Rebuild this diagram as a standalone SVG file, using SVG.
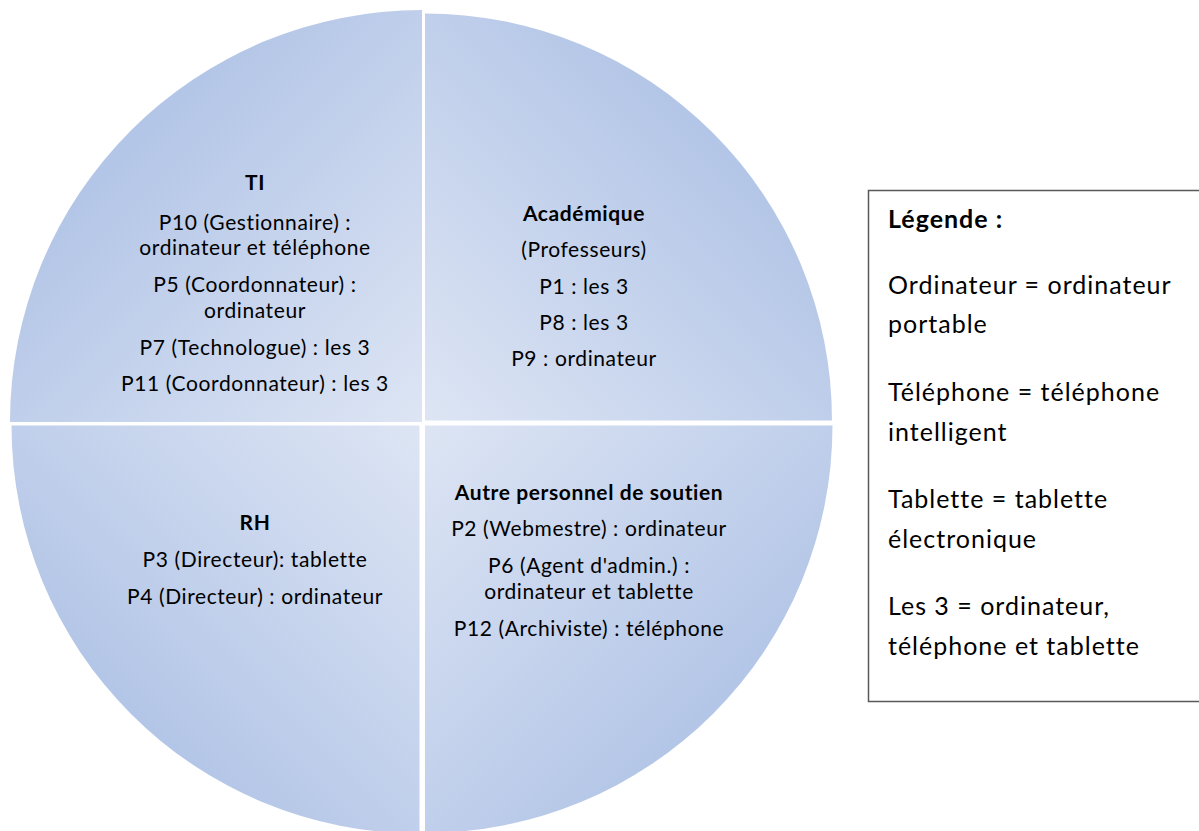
<svg xmlns="http://www.w3.org/2000/svg" width="1199" height="831" viewBox="0 0 1199 831">
  <style>
    .t { font-family: Lato, "Liberation Sans", sans-serif; font-size: 21px; letter-spacing: 0.6px; fill: #000; text-anchor: middle; }
    .b { font-weight: bold; }
    .lg { font-family: Lato, "Liberation Sans", sans-serif; font-size: 25px; letter-spacing: 1px; fill: #000; }
    .quad { stroke: none; }
  </style>
  <defs>
    <linearGradient id="gTL" gradientUnits="userSpaceOnUse" x1="422" y1="422" x2="140" y2="140">
      <stop offset="0" stop-color="#dde5f4"/>
      <stop offset="1" stop-color="#b4c6e7"/>
    </linearGradient>
    <linearGradient id="gTR" gradientUnits="userSpaceOnUse" x1="425" y1="420" x2="710" y2="140">
      <stop offset="0" stop-color="#dde5f4"/>
      <stop offset="1" stop-color="#b4c6e7"/>
    </linearGradient>
    <linearGradient id="gBL" gradientUnits="userSpaceOnUse" x1="420" y1="425" x2="135" y2="710">
      <stop offset="0" stop-color="#dde5f4"/>
      <stop offset="1" stop-color="#b4c6e7"/>
    </linearGradient>
    <linearGradient id="gBR" gradientUnits="userSpaceOnUse" x1="425" y1="425" x2="710" y2="710">
      <stop offset="0" stop-color="#dde5f4"/>
      <stop offset="1" stop-color="#b4c6e7"/>
    </linearGradient>
  </defs>
  <rect x="0" y="0" width="1199" height="831" fill="#ffffff"/>

  <g id="ti">
    <path class="quad" fill="url(#gTL)" d="M422,422 L10,422 A412,412 0 0 1 422,10 Z"/>
    <text class="t b" x="255" y="190">TI</text>
    <text class="t" x="255" y="230">P10 (Gestionnaire) :</text>
    <text class="t" x="255" y="255">ordinateur et téléphone</text>
    <text class="t" x="255" y="292">P5 (Coordonnateur) :</text>
    <text class="t" x="255" y="318">ordinateur</text>
    <text class="t" x="255" y="355">P7 (Technologue) : les 3</text>
    <text class="t" x="255" y="391">P11 (Coordonnateur) : les 3</text>
  </g>

  <g id="academique">
    <path class="quad" fill="url(#gTR)" d="M425,420.5 L425,13.5 A407,407 0 0 1 832,420.5 Z"/>
    <text class="t b" x="584" y="221">Académique</text>
    <text class="t" x="584" y="257">(Professeurs)</text>
    <text class="t" x="584" y="294">P1 : les 3</text>
    <text class="t" x="584" y="330">P8 : les 3</text>
    <text class="t" x="584" y="366">P9 : ordinateur</text>
  </g>

  <g id="rh">
    <path class="quad" fill="url(#gBL)" d="M419.5,425.5 L419.5,833.5 A408,408 0 0 1 11.5,425.5 Z"/>
    <text class="t b" x="255" y="530">RH</text>
    <text class="t" x="255" y="567">P3 (Directeur): tablette</text>
    <text class="t" x="255" y="604">P4 (Directeur) : ordinateur</text>
  </g>

  <g id="autre">
    <path class="quad" fill="url(#gBR)" d="M425,425.5 L832.5,425.5 A407.5,407.5 0 0 1 425,833 Z"/>
    <text class="t b" x="589" y="500">Autre personnel de soutien</text>
    <text class="t" x="589" y="536">P2 (Webmestre) : ordinateur</text>
    <text class="t" x="589" y="573">P6 (Agent d'admin.) :</text>
    <text class="t" x="589" y="599">ordinateur et tablette</text>
    <text class="t" x="589" y="636">P12 (Archiviste) : téléphone</text>
  </g>

  <g id="legende">
    <rect x="868.5" y="190.5" width="340" height="511" fill="#ffffff" stroke="#595959" stroke-width="1.5"/>
    <text class="lg b" x="888" y="228">Légende :</text>
    <text class="lg" x="888" y="294">Ordinateur = ordinateur</text>
    <text class="lg" x="888" y="333">portable</text>
    <text class="lg" x="888" y="401">Téléphone = téléphone</text>
    <text class="lg" x="888" y="441">intelligent</text>
    <text class="lg" x="888" y="508">Tablette = tablette</text>
    <text class="lg" x="888" y="548">électronique</text>
    <text class="lg" x="888" y="615">Les 3 = ordinateur,</text>
    <text class="lg" x="888" y="655">téléphone et tablette</text>
  </g>
</svg>
